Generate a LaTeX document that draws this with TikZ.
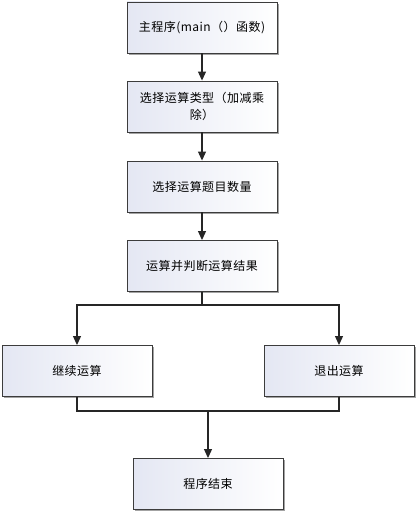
\documentclass[tikz,border=0pt]{standalone}
\usepackage{fontspec}
\newfontfamily\cjk[LetterSpace=4]{Noto Sans CJK SC}
\usetikzlibrary{arrows.meta,shadows}
\definecolor{boxleft}{RGB}{228,231,243}
\definecolor{boxborder}{RGB}{60,60,60}
\tikzset{
  flowbox/.style={rectangle, draw=boxborder, line width=0.9pt,
    left color=boxleft, right color=white,
    minimum width=150pt, minimum height=51pt, inner sep=0pt,
    align=center, font=\cjk\fontsize{12}{17}\selectfont,
    drop shadow={shadow xshift=1.6pt, shadow yshift=-1.6pt, fill=black!45, opacity=0.8}},
  conn/.style={line width=1.1pt, draw=black!85},
  arr/.style={conn, -{Triangle[length=9pt,width=8pt]}}
}
\begin{document}
\begin{tikzpicture}[x=1pt,y=1pt]
\useasboundingbox (0,0) rectangle (416,-511);
\node[flowbox] (b1) at (202,-27.5) {主程序(main（）函数)};
\node[flowbox] (b2) at (202,-106.5) {选择运算类型（加减乘\\除）};
\node[flowbox] (b3) at (202,-186.5) {选择运算题目数量};
\node[flowbox] (b4) at (202,-266) {运算并判断运算结果};
\node[flowbox] (b5) at (77,-371) {继续运算};
\node[flowbox] (b6) at (339,-371) {退出运算};
\node[flowbox] (b7) at (208,-484) {程序结束};
\coordinate (split) at (202,-305);
\coordinate (merge) at (208,-411);
\draw[arr] (b1) -- (b2);
\draw[arr] (b2) -- (b3);
\draw[arr] (b3) -- (b4);
\draw[conn] (b4) -- (split);
\draw[arr] (split) -| (b5);
\draw[arr] (split) -| (b6);
\draw[conn] (b5) |- (merge);
\draw[conn] (b6) |- (merge);
\draw[arr] (merge) -- (b7);
\end{tikzpicture}
\end{document}
